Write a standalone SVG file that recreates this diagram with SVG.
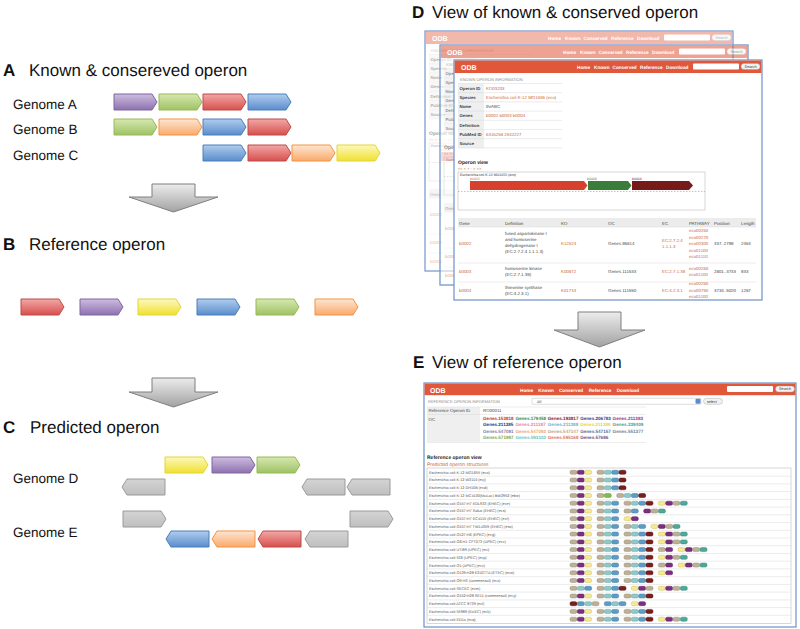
<svg xmlns="http://www.w3.org/2000/svg" width="800" height="629" viewBox="0 0 800 629">
<style>
text{font-family:"Liberation Sans",Arial,sans-serif;text-rendering:geometricPrecision}
.ttl{font-size:17px;fill:#111}
.lab{font-size:17px;font-weight:bold;fill:#111}
.gn{font-size:13.5px;fill:#111}
.ga{stroke-width:1}
.pu{fill:url(#gPu);stroke:#8064a2}
.gr{fill:url(#gGr);stroke:#98b954}
.rd{fill:url(#gRd);stroke:#be4b48}
.bl{fill:url(#gBl);stroke:#4a7ebb}
.or{fill:url(#gOr);stroke:#f69240}
.ye{fill:url(#gYe);stroke:#e3d43c}
.gy{fill:url(#gGy);stroke:#9a9a9a}
.big{fill:url(#gBig);stroke:#7f7f7f;stroke-width:1}
.odb{font-size:7px;font-weight:bold;fill:#fff}
.nav{font-size:4.7px;font-weight:bold;fill:#fff}
.btn{font-size:3.8px;fill:#333}
.sec{font-size:4px;fill:#8a8a8a}
.lb{font-size:4.3px;font-weight:bold;fill:#444}
.v{font-size:4.4px;fill:#444}
.lk{font-size:4.4px;fill:#cc6633}
.tl{stroke:#d8d8d8;stroke-width:0.5}
.oc{font-size:4.6px;font-weight:bold}
.rn{font-size:3.8px;fill:#555}
.T{fill:#bcb096;stroke:#9c9078}
.P{fill:#7c2f80;stroke:#5c1f60}
.Y{fill:#f4e89a;stroke:#d4c050}
.C{fill:#8ec8c8;stroke:#6aa8a8}
.B{fill:#5e9cc4;stroke:#3e7ca4}
.R{fill:#7a1e1e;stroke:#5a0e0e}
.G{fill:#86b850;stroke:#669830}
.M{fill:#50a898;stroke:#308878}
</style>
<defs>
<linearGradient id="gPu" x1="0" y1="0" x2="0" y2="1"><stop offset="0" stop-color="#cdbde0"/><stop offset="1" stop-color="#8d71af"/></linearGradient>
<linearGradient id="gGr" x1="0" y1="0" x2="0" y2="1"><stop offset="0" stop-color="#d6e8b0"/><stop offset="1" stop-color="#9ec264"/></linearGradient>
<linearGradient id="gRd" x1="0" y1="0" x2="0" y2="1"><stop offset="0" stop-color="#f2a8a6"/><stop offset="1" stop-color="#d6504d"/></linearGradient>
<linearGradient id="gBl" x1="0" y1="0" x2="0" y2="1"><stop offset="0" stop-color="#b0cdee"/><stop offset="1" stop-color="#5b8ccc"/></linearGradient>
<linearGradient id="gOr" x1="0" y1="0" x2="0" y2="1"><stop offset="0" stop-color="#fee6d2"/><stop offset="1" stop-color="#f9aa6c"/></linearGradient>
<linearGradient id="gYe" x1="0" y1="0" x2="0" y2="1"><stop offset="0" stop-color="#fcf9bc"/><stop offset="1" stop-color="#f0e030"/></linearGradient>
<linearGradient id="gGy" x1="0" y1="0" x2="0" y2="1"><stop offset="0" stop-color="#d4d4d4"/><stop offset="1" stop-color="#bfbfbf"/></linearGradient>
<linearGradient id="gBig" x1="0" y1="0" x2="0" y2="1"><stop offset="0" stop-color="#ececec"/><stop offset="1" stop-color="#a2a2a2"/></linearGradient>
<path id="fwd" d="M0,0 H38 L43,8 L38,16 H0 Z"/>
<path id="rev" d="M5,0 H43 V16 H5 L0,8 Z"/>
<rect id="gl" width="7" height="4" rx="1.6" stroke-width="0.5"/>
<g id="tpy"><use href="#gl" y="-2" class="T"/><use href="#gl" x="7.33" y="-2" class="P"/><use href="#gl" x="14.66" y="-2" class="Y"/></g>
<g id="tcb"><use href="#gl" y="-2" class="T"/><use href="#gl" x="7.33" y="-2" class="C"/><use href="#gl" x="14.66" y="-2" class="B"/></g>
<g id="tcbr"><use href="#tcb"/><use href="#gl" x="22" y="-2" class="R"/></g>
<g id="yptm"><use href="#gl" y="-2" class="Y"/><use href="#gl" x="7.33" y="-2" class="P"/><use href="#gl" x="14.66" y="-2" class="T"/><use href="#gl" x="22" y="-2" class="M"/></g>
<g id="yp"><use href="#gl" y="-2" class="Y"/><use href="#gl" x="7.33" y="-2" class="P"/></g>
<g id="tp"><use href="#gl" y="-2" class="T"/><use href="#gl" x="7.33" y="-2" class="P"/></g>
<g id="win">
<rect x="454" y="60" width="308" height="240" fill="#fff" stroke="#6f8fc6" stroke-width="1.2"/>
<rect x="454.6" y="60.6" width="306.8" height="12.4" fill="#e0573a"/>
<text x="461" y="70" class="odb">ODB</text>
<text y="69.3" class="nav"><tspan x="577">Home</tspan><tspan x="594">Known</tspan><tspan x="612.5">Conserved</tspan><tspan x="640">Reference</tspan><tspan x="666">Download</tspan></text>
<rect x="693" y="63.5" width="46" height="6" rx="1" fill="#fff"/>
<rect x="741" y="63.5" width="19" height="6" rx="3" fill="#f2f2f2" stroke="#999" stroke-width="0.4"/>
<text x="744.6" y="67.9" class="btn">Search</text>
<text x="460" y="80.5" class="sec">KNOWN OPERON INFORMATION</text>
<rect x="458" y="83.5" width="26" height="64.4" fill="#efefef"/>
<g class="tl"><line x1="458" y1="83.5" x2="562" y2="83.5"/><line x1="458" y1="92.7" x2="562" y2="92.7"/><line x1="458" y1="101.9" x2="562" y2="101.9"/><line x1="458" y1="111.1" x2="562" y2="111.1"/><line x1="458" y1="120.3" x2="562" y2="120.3"/><line x1="458" y1="129.5" x2="562" y2="129.5"/><line x1="458" y1="138.7" x2="562" y2="138.7"/><line x1="458" y1="147.9" x2="562" y2="147.9"/></g>
<text class="lb"><tspan x="459.5" y="89.7">Operon ID</tspan><tspan x="459.5" y="98.9">Species</tspan><tspan x="459.5" y="108.1">Name</tspan><tspan x="459.5" y="117.3">Genes</tspan><tspan x="459.5" y="126.5">Definition</tspan><tspan x="459.5" y="135.7">PubMed ID</tspan><tspan x="459.5" y="144.9">Source</tspan></text>
<text x="486" y="89.7" class="lk">KO03203</text>
<text x="486" y="98.9" class="lk">Escherichia coli K-12 MG1655 (eco)</text>
<text x="486" y="108.1" class="v">thrABC</text>
<text x="486" y="117.3" class="lk">b0002 b0003 b0004</text>
<text x="486" y="135.7" class="lk">6316258 2542227</text>
<text x="458" y="164" font-size="5" font-weight="bold" fill="#222">Operon view</text>
<text x="458" y="170" font-size="4" fill="#cc6633">&lt;&lt; &lt; + - &gt; &gt;&gt;</text>
<rect x="458" y="172" width="247" height="38" fill="#fff" stroke="#bbb" stroke-width="0.6"/>
<text x="460" y="176" font-size="3.5" fill="#333">Escherichia coli K-12 MG1655 (eco)</text>
<text x="470" y="180" font-size="3.5" fill="#cc6633">b0002</text>
<text x="587" y="180" font-size="3.5" fill="#3a7d3a">b0003</text>
<text x="632" y="180" font-size="3.5" fill="#7a1a1a">b0004</text>
<path d="M470,181 H584 L587.5,185.5 L584,190 H470 Z" fill="#d8402e"/>
<path d="M588,181 H628 L631.5,185.5 L628,190 H588 Z" fill="#3a7d3a"/>
<path d="M632,181 H689 L693,185.5 L689,190 H632 Z" fill="#761a1a"/>
<line x1="458" y1="191.5" x2="705" y2="191.5" stroke="#888" stroke-width="0.5" stroke-dasharray="1.5 1.5"/>
<rect x="458" y="218" width="298" height="9" fill="#ececec"/>
<g class="tl"><line x1="458" y1="227" x2="756" y2="227"/><line x1="458" y1="263" x2="756" y2="263"/><line x1="458" y1="282" x2="756" y2="282"/></g>
<text y="224.5" class="v"><tspan x="459">Gene</tspan><tspan x="505">Definition</tspan><tspan x="561">KO</tspan><tspan x="608">OC</tspan><tspan x="662">EC</tspan><tspan x="689">PATHWAY</tspan><tspan x="714">Position</tspan><tspan x="741">Length</tspan></text>
<text x="459" y="245" class="lk">b0002</text>
<text class="v"><tspan x="505" y="235">fused aspartokinase I</tspan><tspan x="505" y="241">and homoserine</tspan><tspan x="505" y="247">dehydrogenase I</tspan><tspan x="505" y="253">(EC:2.7.2.4 1.1.1.3)</tspan></text>
<text x="561" y="245" class="lk">K12524</text>
<text x="608" y="245" class="v">Genes.95814</text>
<text class="lk"><tspan x="662" y="242">EC:2.7.2.4</tspan><tspan x="662" y="248">1.1.1.3</tspan></text>
<text class="lk"><tspan x="689" y="232">eco00260</tspan><tspan x="689" y="238.5">eco00270</tspan><tspan x="689" y="245">eco00300</tspan><tspan x="689" y="251.5">eco01100</tspan><tspan x="689" y="258">eco01110</tspan></text>
<text x="714" y="245" class="v">337..2799</text>
<text x="741" y="245" class="v">2463</text>
<text x="459" y="273" class="lk">b0003</text>
<text class="v"><tspan x="505" y="269.5">homoserine kinase</tspan><tspan x="505" y="275.5">(EC:2.7.1.39)</tspan></text>
<text x="561" y="273" class="lk">K00872</text>
<text x="608" y="273" class="v">Genes.111533</text>
<text x="662" y="273" class="lk">EC:2.7.1.39</text>
<text class="lk"><tspan x="689" y="269.5">eco00260</tspan><tspan x="689" y="275.5">eco01100</tspan></text>
<text x="714" y="273" class="v">2801..3733</text>
<text x="741" y="273" class="v">933</text>
<text x="459" y="291.5" class="lk">b0004</text>
<text class="v"><tspan x="505" y="288.5">threonine synthase</tspan><tspan x="505" y="294.5">(EC:4.2.3.1)</tspan></text>
<text x="561" y="291.5" class="lk">K01733</text>
<text x="608" y="291.5" class="v">Genes.111550</text>
<text x="662" y="291.5" class="lk">EC:4.2.3.1</text>
<text class="lk"><tspan x="689" y="285">eco00260</tspan><tspan x="689" y="291.5">eco00750</tspan><tspan x="689" y="298">eco01100</tspan></text>
<text x="714" y="291.5" class="v">3734..5020</text>
<text x="741" y="291.5" class="v">1287</text>
</g>
</defs>
<rect width="800" height="629" fill="#fff"/>

<g id="panel-A">
<text x="3" y="76" class="lab">A</text>
<text x="29" y="76" class="ttl">Known &amp; consereved operon</text>
<g id="genome-A"><text x="13" y="109" class="gn">Genome A</text>
<use href="#fwd" x="114" y="94" class="ga pu"/><use href="#fwd" x="159" y="94" class="ga gr"/><use href="#fwd" x="203" y="94" class="ga rd"/><use href="#fwd" x="248" y="94" class="ga bl"/></g>
<g id="genome-B"><text x="13" y="134" class="gn">Genome B</text>
<use href="#fwd" x="114" y="119" class="ga gr"/><use href="#fwd" x="159" y="119" class="ga or"/><use href="#fwd" x="203" y="119" class="ga bl"/><use href="#fwd" x="248" y="119" class="ga rd"/></g>
<g id="genome-C"><text x="13" y="160" class="gn">Genome C</text>
<use href="#fwd" x="203" y="145" class="ga bl"/><use href="#fwd" x="248" y="145" class="ga rd"/><use href="#fwd" x="292" y="145" class="ga or"/><use href="#fwd" x="337" y="145" class="ga ye"/></g>
</g>

<g id="panel-B">
<text x="3" y="250" class="lab">B</text>
<text x="29" y="250" class="ttl">Reference operon</text>
<use href="#fwd" x="21" y="299" class="ga rd"/><use href="#fwd" x="80" y="299" class="ga pu"/><use href="#fwd" x="138" y="299" class="ga ye"/><use href="#fwd" x="197" y="299" class="ga bl"/><use href="#fwd" x="256" y="299" class="ga gr"/><use href="#fwd" x="315" y="299" class="ga or"/>
</g>

<g id="panel-C">
<text x="3" y="433" class="lab">C</text>
<text x="30" y="433" class="ttl">Predicted operon</text>
<g id="genome-D"><text x="13" y="483" class="gn">Genome D</text>
<use href="#fwd" x="165" y="457" class="ga ye"/><use href="#fwd" x="212" y="457" class="ga pu"/><use href="#fwd" x="257" y="457" class="ga gr"/>
<use href="#rev" x="122" y="479" class="ga gy"/><use href="#rev" x="302" y="479" class="ga gy"/><use href="#rev" x="347" y="479" class="ga gy"/></g>
<g id="genome-E"><text x="13" y="537" class="gn">Genome E</text>
<use href="#fwd" x="123" y="511" class="ga gy"/><use href="#fwd" x="350" y="511" class="ga gy"/>
<use href="#rev" x="166" y="531" class="ga bl"/><use href="#rev" x="212" y="531" class="ga or"/><use href="#rev" x="258" y="531" class="ga rd"/><use href="#rev" x="305" y="531" class="ga gy"/></g>
</g>

<g id="connectors">
<path class="big" d="M152,184 H195 V197 H218 L173.5,212 L129,197 H152 Z"/>
<path class="big" d="M152,378 H195 V392 H218 L173.5,407 L129,392 H152 Z"/>
<path class="big" d="M578,312 H621 V330 H645 L599.5,347 L554,330 H578 Z"/>
</g>

<g id="panel-D">
<text x="412" y="18" class="lab">D</text>
<text x="432" y="18" class="ttl">View of known &amp; conserved operon</text>
<g id="window-back-1"><g opacity="0.42"><use href="#win" transform="translate(-29,-29)"/></g>
<rect x="425" y="31" width="308" height="240" fill="none" stroke="#7d9bd0" stroke-width="1"/></g>
<g id="window-back-2"><g opacity="0.55"><use href="#win" transform="translate(-14,-15)"/></g>
<rect x="440" y="45" width="308" height="240" fill="none" stroke="#7d9bd0" stroke-width="1"/></g>
<g id="window-front"><use href="#win"/></g>
</g>

<g id="panel-E">
<text x="413" y="368" class="lab">E</text>
<text x="432" y="368" class="ttl">View of reference operon</text>
<g id="window-E">
<rect x="424" y="383" width="372" height="244" fill="#fff" stroke="#6f8fc6" stroke-width="1.2"/>
<rect x="424.6" y="383.6" width="370.8" height="11.6" fill="#e0573a"/>
<text x="430" y="392.5" class="odb">ODB</text>
<text y="391.6" class="nav"><tspan x="520">Home</tspan><tspan x="538.3">Known</tspan><tspan x="558.9">Conserved</tspan><tspan x="588.7">Reference</tspan><tspan x="616.7">Download</tspan></text>
<rect x="727" y="386" width="46" height="6" rx="1" fill="#fff"/>
<rect x="775.5" y="386" width="19" height="6" rx="3" fill="#f2f2f2" stroke="#999" stroke-width="0.4"/>
<text x="779" y="390.4" class="btn">Search</text>
<text x="428" y="403" class="sec">REFERENCE OPERON INFORMATION</text>
<rect x="532" y="398.3" width="169" height="6" rx="1" fill="#fff" stroke="#aaa" stroke-width="0.4"/>
<text x="537" y="402.7" class="btn">All</text>
<rect x="695.5" y="398.8" width="5" height="5" rx="1" fill="#5a8ad0"/>
<rect x="703.5" y="398.3" width="19" height="6" rx="3" fill="#f2f2f2" stroke="#999" stroke-width="0.4"/>
<text x="707" y="402.7" class="btn">select</text>
<rect x="427" y="407" width="53" height="35" fill="#efefef"/>
<g class="tl"><line x1="427" y1="407" x2="646" y2="407"/><line x1="427" y1="414.5" x2="646" y2="414.5"/><line x1="427" y1="442.5" x2="646" y2="442.5"/></g>
<text x="428.5" y="412.3" class="v">Reference Operon ID</text>
<text x="483" y="412.3" class="v">RO00011</text>
<text x="428.5" y="421" class="v">OC</text>
<text y="420" class="oc"><tspan x="483" fill="#c0392b">Genes.153818</tspan><tspan x="515.4" fill="#3d8b3d">Genes.179458</tspan><tspan x="547.8" fill="#8b1c1c">Genes.193817</tspan><tspan x="580.2" fill="#2d3f8f">Genes.206783</tspan><tspan x="612.6" fill="#8e3a8e">Genes.211383</tspan></text>
<text y="426.3" class="oc"><tspan x="483" fill="#2a3a8a">Genes.211385</tspan><tspan x="515.4" fill="#e889a8">Genes.211387</tspan><tspan x="547.8" fill="#6fb2d2">Genes.211388</tspan><tspan x="580.2" fill="#e8d44a">Genes.211389</tspan><tspan x="612.6" fill="#4aa393">Genes.239409</tspan></text>
<text y="432.6" class="oc"><tspan x="483" fill="#8e80a6">Genes.547091</tspan><tspan x="515.4" fill="#f2a676">Genes.547092</tspan><tspan x="547.8" fill="#c4a586">Genes.547147</tspan><tspan x="580.2" fill="#5572a3">Genes.547157</tspan><tspan x="612.6" fill="#72849a">Genes.551377</tspan></text>
<text y="438.9" class="oc"><tspan x="483" fill="#86a846">Genes.571997</tspan><tspan x="515.4" fill="#76c4b4">Genes.593102</tspan><tspan x="547.8" fill="#e07656">Genes.595168</tspan><tspan x="580.2" fill="#66568a">Genes.57686</tspan></text>
<text x="427" y="459" font-size="5" font-weight="bold" fill="#222">Reference operon view</text>
<text x="427" y="466" font-size="5" fill="#cc6633">Predicted operon structures</text>
<rect x="427" y="468" width="364" height="155.5" fill="#fff" stroke="#bbb" stroke-width="0.6"/>
<g class="tl"><line x1="427" y1="476.2" x2="791" y2="476.2"/><line x1="427" y1="483.9" x2="791" y2="483.9"/><line x1="427" y1="491.6" x2="791" y2="491.6"/><line x1="427" y1="499.4" x2="791" y2="499.4"/><line x1="427" y1="507.1" x2="791" y2="507.1"/><line x1="427" y1="514.8" x2="791" y2="514.8"/><line x1="427" y1="522.6" x2="791" y2="522.6"/><line x1="427" y1="530.3" x2="791" y2="530.3"/><line x1="427" y1="538" x2="791" y2="538"/><line x1="427" y1="545.7" x2="791" y2="545.7"/><line x1="427" y1="553.5" x2="791" y2="553.5"/><line x1="427" y1="561.2" x2="791" y2="561.2"/><line x1="427" y1="568.9" x2="791" y2="568.9"/><line x1="427" y1="576.7" x2="791" y2="576.7"/><line x1="427" y1="584.4" x2="791" y2="584.4"/><line x1="427" y1="592.1" x2="791" y2="592.1"/><line x1="427" y1="599.9" x2="791" y2="599.9"/><line x1="427" y1="607.6" x2="791" y2="607.6"/><line x1="427" y1="615.3" x2="791" y2="615.3"/></g>
<g transform="translate(0,472.3)"><text x="429" y="1.4" class="rn">Escherichia coli K-12 MG1655 (eco)</text><use href="#tpy" x="570"/><use href="#tcbr" x="597"/></g>
<g transform="translate(0,480)"><text x="429" y="1.4" class="rn">Escherichia coli K-12 W3110 (ecj)</text><use href="#tpy" x="570"/><use href="#tcbr" x="597"/></g>
<g transform="translate(0,487.8)"><text x="429" y="1.4" class="rn">Escherichia coli K-12 DH10B (ecd)</text><use href="#tpy" x="570"/><use href="#tcbr" x="597"/></g>
<g transform="translate(0,495.5)"><text x="429" y="1.4" class="rn">Escherichia coli K-12 MC4100(MuLac) BW2952 (ebw)</text><use href="#tpy" x="570"/><use href="#gl" x="597" y="-2" class="T"/><use href="#gl" x="604.3" y="-2" class="G"/><use href="#tcbr" x="616.7"/></g>
<g transform="translate(0,503.2)"><text x="429" y="1.4" class="rn">Escherichia coli O157:H7 EDL933 (EHEC) (ece)</text><use href="#tpy" x="570"/><use href="#tcb" x="597"/><use href="#tcbr" x="624"/><use href="#yptm" x="658.3"/></g>
<g transform="translate(0,511)"><text x="429" y="1.4" class="rn">Escherichia coli O157:H7 Sakai (EHEC) (ecs)</text><use href="#tpy" x="570"/><use href="#tcb" x="597"/><use href="#gl" x="624" y="-2" class="T"/><use href="#gl" x="631.3" y="-2" class="B"/><use href="#gl" x="643.7" y="-2" class="P"/><use href="#gl" x="651" y="-2" class="T"/><use href="#gl" x="658.4" y="-2" class="M"/></g>
<g transform="translate(0,518.7)"><text x="429" y="1.4" class="rn">Escherichia coli O157:H7 EC4115 (EHEC) (ecf)</text><use href="#tpy" x="570"/><use href="#tcb" x="597"/><use href="#yp" x="624"/></g>
<g transform="translate(0,526.4)"><text x="429" y="1.4" class="rn">Escherichia coli O157:H7 TW14359 (EHEC) (etw)</text><use href="#tpy" x="570"/><use href="#tcb" x="597"/><use href="#tcb" x="624"/><use href="#yptm" x="651"/></g>
<g transform="translate(0,534.1)"><text x="429" y="1.4" class="rn">Escherichia coli O127:H6 (EPEC) (ecg)</text><use href="#tpy" x="570"/><use href="#tcb" x="597"/><use href="#tcbr" x="624"/><use href="#yptm" x="658.3"/></g>
<g transform="translate(0,541.9)"><text x="429" y="1.4" class="rn">Escherichia coli O6:H1 CFT073 (UPEC) (ecc)</text><use href="#tpy" x="570"/><use href="#tcb" x="597"/><use href="#tcbr" x="624"/><use href="#yptm" x="658.3"/></g>
<g transform="translate(0,549.6)"><text x="429" y="1.4" class="rn">Escherichia coli UTI89 (UPEC) (eci)</text><use href="#tpy" x="570"/><use href="#tcb" x="597"/><use href="#tcbr" x="624"/><use href="#tp" x="658.3"/><use href="#yptm" x="678"/></g>
<g transform="translate(0,557.3)"><text x="429" y="1.4" class="rn">Escherichia coli 536 (UPEC) (ecp)</text><use href="#tpy" x="570"/><use href="#tcb" x="597"/><use href="#tcbr" x="624"/><use href="#yptm" x="658.3"/></g>
<g transform="translate(0,565.1)"><text x="429" y="1.4" class="rn">Escherichia coli O1 (APEC) (ecv)</text><use href="#tpy" x="570"/><use href="#tcb" x="597"/><use href="#tcbr" x="624"/><use href="#tp" x="658.3"/><use href="#yptm" x="678"/></g>
<g transform="translate(0,572.8)"><text x="429" y="1.4" class="rn">Escherichia coli O139:H28 E24377A (ETEC) (ecw)</text><use href="#tpy" x="570"/><use href="#tcb" x="597"/><use href="#tcbr" x="624"/><use href="#yp" x="658.3"/></g>
<g transform="translate(0,580.5)"><text x="429" y="1.4" class="rn">Escherichia coli O9 HS (commensal) (ecx)</text><use href="#tpy" x="570"/><use href="#tcb" x="597"/><use href="#tcbr" x="624"/></g>
<g transform="translate(0,588.3)"><text x="429" y="1.4" class="rn">Escherichia coli SECEC (ecm)</text><use href="#tcb" x="570"/><use href="#tcbr" x="597"/><use href="#gl" x="631.3" y="-2" class="Y"/><use href="#gl" x="638.6" y="-2" class="P"/><use href="#gl" x="646" y="-2" class="T"/><use href="#yptm" x="658.3"/></g>
<g transform="translate(0,596)"><text x="429" y="1.4" class="rn">Escherichia coli O152:H28 SE11 (commensal) (ecy)</text><use href="#tpy" x="570"/><use href="#tcb" x="597"/><use href="#tcbr" x="624"/></g>
<g transform="translate(0,603.7)"><text x="429" y="1.4" class="rn">Escherichia coli ATCC 8739 (ecl)</text><use href="#gl" x="570" y="-2" class="R"/><use href="#gl" x="577.3" y="-2" class="B"/><use href="#gl" x="584.7" y="-2" class="C"/><use href="#gl" x="592" y="-2" class="T"/><use href="#gl" x="604.3" y="-2" class="B"/><use href="#gl" x="611.6" y="-2" class="C"/><use href="#gl" x="619" y="-2" class="B"/><use href="#yp" x="631.3"/></g>
<g transform="translate(0,611.4)"><text x="429" y="1.4" class="rn">Escherichia coli 55989 (EAEC) (eck)</text><use href="#tpy" x="570"/><use href="#tcb" x="597"/><use href="#tcbr" x="624"/></g>
<g transform="translate(0,619.2)"><text x="429" y="1.4" class="rn">Escherichia coli ED1a (ecq)</text><use href="#tpy" x="570"/><use href="#tcb" x="597"/><use href="#tcbr" x="624"/><use href="#yptm" x="658.3"/></g>
</g>
</g>
</svg>
